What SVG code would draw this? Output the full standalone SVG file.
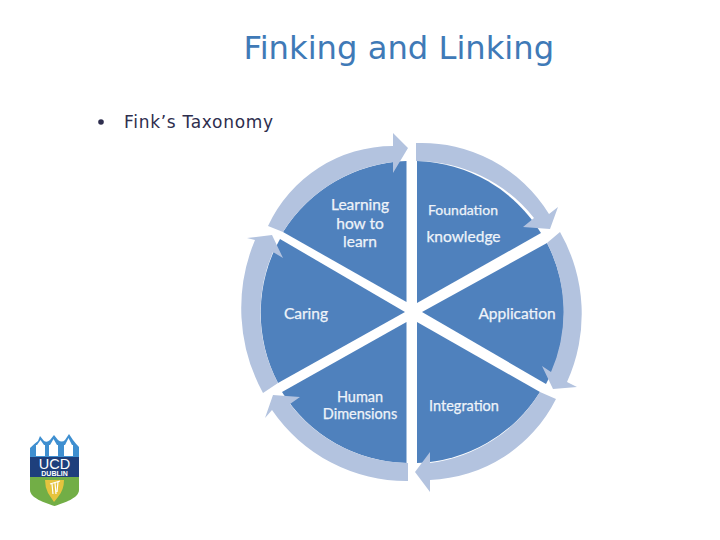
<svg xmlns="http://www.w3.org/2000/svg" width="720" height="540" viewBox="0 0 720 540">
<style>
.seg{fill:#4f81bd}
.band{fill:#b3c3df}
.lab{font-family:"Lato","Open Sans",sans-serif;font-size:15.5px;font-weight:400;fill:#eef3f9;stroke:#eef3f9;stroke-width:.25;text-anchor:middle}
.tower{fill:#fff}
.logo{font-family:"Liberation Sans",sans-serif;fill:#fff;text-anchor:middle}
</style>
<rect width="720" height="540" fill="#fff"/>
<text x="243.500" y="59" font-family="DejaVu Sans, sans-serif" font-size="32.200px" fill="#3f7ab7">Finking and Linking</text>
<circle cx="101" cy="122" r="2.800" fill="#2e2e4e"/>
<text x="124" y="127.500" font-family="DejaVu Sans, sans-serif" font-size="17px" letter-spacing=".7" fill="#2e2e4e">Fink’s Taxonomy</text>

<g id="learning">
<path class="seg" d="M406.500 161V302L283 232A151 151 0 0 1 406.500 161Z"/>
<text class="lab" x="360" y="210">Learning</text><text class="lab" x="360" y="228.500">how to</text><text class="lab" x="360" y="246.500">learn</text>
</g>
<g id="foundation">
<path class="seg" d="M417 161A151 151 0 0 1 541 233L417 303Z"/>
<text class="lab" x="463" y="215" style="font-size:14px">Foundation</text><text class="lab" x="463.500" y="242">knowledge</text>
</g>
<g id="application">
<path class="seg" d="M547 243A151 151 0 0 1 546 384L422 312Z"/>
<text class="lab" x="517" y="319">Application</text>
</g>
<g id="integration">
<path class="seg" d="M417 322L540 392A151 151 0 0 1 417 463Z"/>
<text class="lab" x="464" y="411" style="font-size:14.500px">Integration</text>
</g>
<g id="human">
<path class="seg" d="M406.500 322V463A151 151 0 0 1 282 392Z"/>
<text class="lab" x="360" y="402" style="font-size:14.500px">Human</text><text class="lab" x="360" y="419" style="font-size:14.500px">Dimensions</text>
</g>
<g id="caring">
<path class="seg" d="M278 383A151 151 0 0 1 280 239L405 312Z"/>
<text class="lab" x="306" y="319">Caring</text>
</g>

<g id="connectors">
<path class="band" d="M268 226A138 138 0 0 1 393 146L393 133L408 148L393 173L393 162A151 151 0 0 0 283 232Z"/>
<path class="band" d="M416 143A149 149 0 0 1 549 214L558 207L550 229L523 227L534 218A151 151 0 0 0 416 161Z"/>
<path class="band" d="M560 232A165 165 0 0 1 567 382L577 387L553 389L542 366L551 372A151 151 0 0 0 547 243Z"/>
<path class="band" d="M556 399A147 147 0 0 1 430 480L430 492L415 472L430 452L430 463A151 151 0 0 0 540 392Z"/>
<path class="band" d="M408 481A163 163 0 0 1 272 410L265 418L273 395L300 397L290 404A151 151 0 0 0 408 463Z"/>
<path class="band" d="M263 393A176 176 0 0 1 255 240L247 238L272 235L283 258L273 252A151 151 0 0 0 278 383Z"/>
</g>

<g id="ucd-logo">
<path d="M30 448Q34 444 38 441L40 436L44 441Q47 443 50 440L54 435L58 440Q62 443 65 440L69 434L73 440Q76 444 79 447V478H30Z" fill="#3f8fd0"/>
<rect class="tower" x="36" y="445" width="9" height="11"/>
<rect class="tower" x="49" y="445" width="9" height="11"/>
<rect class="tower" x="64" y="445" width="9" height="11"/>
<path class="tower" d="M37 445L40.500 440L44 445ZM50 445L53.500 439L57 445ZM65 445L68.500 438L72 445Z"/>
<rect x="30" y="457" width="49" height="21" fill="#1e3f7c"/>
<path d="M30 477H79V490C79 498 64 503 54.500 506C45 503 30 498 30 490Z" fill="#72ae46"/>
<path d="M45 480H64Q64 490 58 497L54 502L48 493Q45 487 45 480Z" fill="#e6c43e"/>
<path d="M50 484L60 481M52 484L53 494M55 483L56 494M58 482L57 492" stroke="#fff" stroke-width="1.200" fill="none"/>
<text class="logo" x="54.500" y="468.500" font-size="14.500px">UCD</text>
<text class="logo" x="54.500" y="476" font-size="7px" font-weight="700">DUBLIN</text>
</g>
</svg>
